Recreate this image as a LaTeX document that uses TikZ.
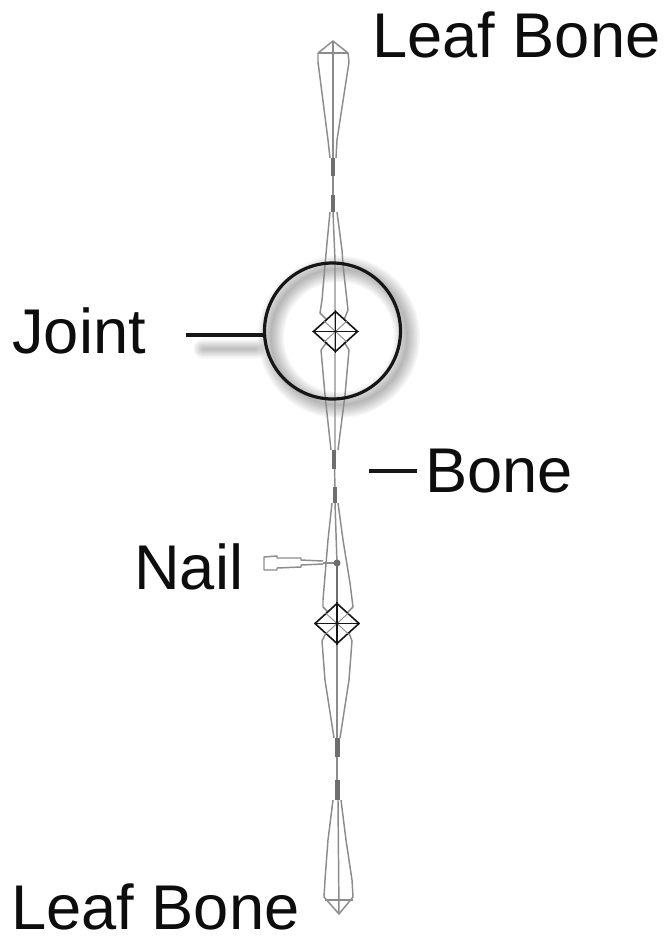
\documentclass[tikz,border=0pt]{standalone}
\usepackage{fontspec}
\setmainfont{Liberation Sans}
\definecolor{bonegray}{RGB}{140,140,140}
\definecolor{bonedark}{RGB}{110,110,110}
\definecolor{calloutblack}{RGB}{22,22,22}
\usetikzlibrary{arrows.meta,positioning,shapes.geometric}
\tikzset{
  boneline/.style={draw=bonegray,line width=1.1pt,line join=round},
  bonebar/.style={draw=bonedark,line width=3.6pt},
  jointdiamond/.style={draw=calloutblack,shape=diamond,inner sep=0pt,line width=1.2pt,minimum width=33.5pt,minimum height=30.5pt},
  callout/.style={draw=calloutblack,line width=2.4pt},
  calloutlabel/.style={anchor=base west,inner sep=0pt,font=\fontsize{47.4pt}{50pt}\selectfont,text=black!95}
}
\begin{document}
\begin{tikzpicture}[x=0.75pt,y=-0.75pt]
  \useasboundingbox (0,0) rectangle (666,936);
  % soft shadow of the ring and its tick
  \foreach \w in {26,23,...,2}{
    \draw[black,opacity=0.035,line width=\w*0.75pt] (339,337) circle (68);
    \draw[black,opacity=0.03,line width=\w*0.55pt,line cap=round] (203,349) -- (256,349);
  }
  % top leaf bone
  \draw[boneline] (318,53) -- (333,41) -- (348,53) -- (349,62) -- (337,140) -- (336,158);
  \draw[boneline] (318,53) -- (318,62) -- (328,140) -- (330,158);
  \draw[boneline] (318,53) -- (348,53);
  \draw[boneline] (333,41) -- (333,195);
  \draw[bonebar] (333,158) -- (333,176);
  \draw[bonebar] (333,195) -- (333,212);
  % upper bone
  \draw[boneline] (330,212) -- (327,243) -- (325,265) -- (322,300) -- (320,313) -- (327,320);
  \draw[boneline] (337,212) -- (342,250) -- (343,265) -- (348,310) -- (344,320);
  \draw[boneline] (333,212) -- (335,260) -- (335,450);
  \draw[boneline] (327,342) -- (321,350) -- (325,395) -- (331,450);
  \draw[boneline] (344,342) -- (349,350) -- (345,395) -- (338,450);
  \draw[boneline] (334,450) -- (335,487);
  \draw[bonebar] (334,450) -- (334,469);
  \draw[bonebar] (335,487) -- (335,503);
  % lower bone with the nail
  \draw[boneline] (332,503) -- (328,540) -- (323,600) -- (323,607) -- (328,612);
  \draw[boneline] (338,503) -- (343,540) -- (350,583) -- (353,607) -- (348,612);
  \draw[boneline] (335,503) -- (337,563);
  \draw[boneline] (323,561) -- (301,560) -- (301,558) -- (277,558) -- (277,556) -- (264,557) -- (264,570) -- (277,570) -- (277,568) -- (301,567) -- (301,565) -- (323,564);
  \draw[boneline] (323,563) -- (337,563);
  \fill[bonedark] (337,563) circle (3.5);
  \draw[draw=bonedark,line width=1.3pt] (337,563) -- (337,603);
  % last bone
  \draw[boneline] (326,633) -- (322,641) -- (325,680) -- (334,738);
  \draw[boneline] (349,633) -- (352,641) -- (349,680) -- (340,738);
  \draw[boneline] (337,644) -- (337,780);
  \draw[bonebar] (337.5,738) -- (337.5,757);
  \draw[bonebar] (337.5,780) -- (337.5,800);
  % bottom leaf bone
  \draw[boneline] (333,800) -- (328,840) -- (325,880) -- (324,897) -- (339,914) -- (353,897) -- (352,880) -- (346,840) -- (341,800);
  \draw[boneline] (325,900) -- (353,900);
  \draw[boneline] (338,800) -- (339,914);
  % joints
  \node[jointdiamond] (jointa) at (335.5,331.5) {};
  \node[jointdiamond] (jointb) at (337,623.5) {};
  \foreach \j in {jointa,jointb}{
    \draw[boneline,line width=0.7pt] (\j.north east) -- (\j.south west);
    \draw[boneline,line width=0.7pt] (\j.north west) -- (\j.south east);
    \draw[calloutblack,line width=1.2pt] (\j.north) -- (\j.south);
    \draw[calloutblack,line width=1.2pt] (\j.west) -- (\j.east);
  }
  % ring and callouts
  \node[callout,circle,inner sep=0pt,minimum size=102pt] (jointring) at (332.5,331) {};
  \coordinate (jointtick) at (186,335);
  \draw[callout,line width=2.8pt] (jointtick) -- (jointtick -| jointring.west);
  \node[calloutlabel] (leaftop) at (372,57) {Leaf Bone};
  \node[calloutlabel] (jointlabel) at (12,353) {Joint};
  \node[calloutlabel] (bonelabel) at (425,492) {Bone};
  \node[calloutlabel] (naillabel) at (134,589) {Nail};
  \node[calloutlabel] (leafbottom) at (11,929) {Leaf Bone};
  \coordinate (bonetick) at (369,471);
  \draw[callout,line width=2.5pt,shorten >=6pt] (bonetick) -- (bonetick -| bonelabel.west);
\end{tikzpicture}
\end{document}
